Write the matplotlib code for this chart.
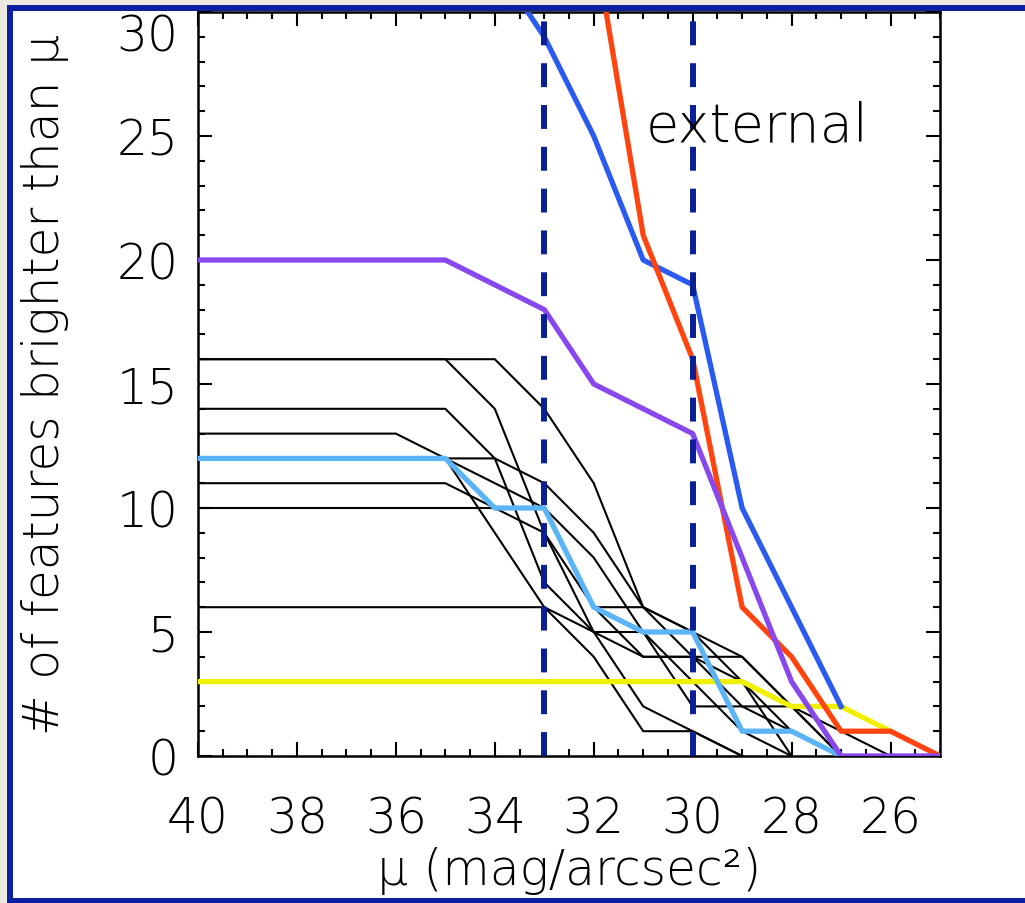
import numpy as np
import matplotlib
matplotlib.use("Agg")
from matplotlib import pyplot as plt
from matplotlib.patches import Rectangle
from matplotlib.ticker import MultipleLocator

#DATA------------------------------------------------------------------------------------------------------------------#
# Surface brightness grid (mag/arcsec^2), bright end on the right #
mu = [40, 39, 38, 37, 36, 35, 34, 33, 32, 31, 30, 29, 28, 27, 26, 25]

# Individual profiles (black), values from mu=40 down to where they hit zero #
black_1 = [16, 16, 16, 16, 16, 16, 14, 9, 6, 6, 4, 3, 1, 0]
black_2 = [16, 16, 16, 16, 16, 16, 16, 14, 11, 6, 5, 4, 2, 0]
black_3 = [14, 14, 14, 14, 14, 14, 12, 7, 5, 5, 2, 2, 2, 1, 0]
black_4 = [13, 13, 13, 13, 13, 12, 11, 10, 6, 4, 4, 4, 2, 0]
black_5 = [12, 12, 12, 12, 12, 12, 12, 11, 9, 6, 5, 3, 0]
black_6 = [11, 11, 11, 11, 11, 11, 10, 9, 5, 2, 1, 0]
black_7 = [10, 10, 10, 10, 10, 10, 10, 10, 8, 5, 3, 1, 0]
black_8 = [6, 6, 6, 6, 6, 6, 6, 6, 4, 1, 1, 0]
black_9 = [12, 12, 12, 12, 12, 12, 9, 6, 5, 4, 4, 2, 1, 0]
black_lines = [black_1, black_2, black_3, black_4, black_5, black_6, black_7, black_8, black_9]

# Highlighted profiles #
yellow_vals = [3, 3, 3, 3, 3, 3, 3, 3, 3, 3, 3, 3, 2, 2, 1]
ltblue_vals = [12, 12, 12, 12, 12, 12, 10, 10, 6, 5, 5, 1, 1, 0]
blue_vals = [40, 40, 40, 40, 38, 35, 32, 29, 25, 20, 19, 10, 6, 2]
red_vals = [40, 40, 40, 40, 40, 38, 36, 35, 33, 21, 16, 6, 4, 1, 1, 0]
purple_vals = [20, 20, 20, 20, 20, 20, 19, 18, 15, 14, 13, 8, 3, 0, 0, 0]

# Limits of the "external" band #
band_edges = [33, 30]

# Tick marks #
x_ticks = [40, 38, 36, 34, 32, 30, 28, 26]
y_ticks = [0, 5, 10, 15, 20, 25, 30]

#PLOTTING--------------------------------------------------------------------------------------------------------------#
fig = plt.figure(figsize=(10.25, 9.04), dpi=100, facecolor="#ece8e0")

# Framed slide panel #
fig.patches.append(Rectangle((10 / 1025, 2.5 / 904), 2.0, (904 - 11.5) / 904,
                             transform=fig.transFigure, facecolor="white",
                             edgecolor="#0b1fa0", linewidth=4.3, zorder=-1))

ax = fig.add_axes([198 / 1025, 147 / 904, 742 / 1025, 744 / 904])
ax.set_facecolor("white")

for vals in black_lines:
    ax.plot(mu[:len(vals)], vals, color="black", lw=1.5, zorder=2)

ax.plot(mu[:len(yellow_vals)], yellow_vals, color="#f0f000", lw=3.8, zorder=3)
ax.plot(mu[:len(ltblue_vals)], ltblue_vals, color="#5ab4f5", lw=3.8, zorder=4)
ax.plot(mu[:len(blue_vals)], blue_vals, color="#2a5af0", lw=3.8, zorder=5)
ax.plot(mu[:len(red_vals)], red_vals, color="#ff4410", lw=3.8, zorder=6)
ax.plot(mu[:len(purple_vals)], purple_vals, color="#8848ee", lw=3.8, zorder=7)

for m in band_edges:
    ax.axvline(m, color="#0a1e96", lw=4.3, dashes=(4, 3), zorder=8)

ax.text(30.95, 25.4, "external", fontsize=39, fontweight="light", color="black",
        ha="left", va="center", zorder=9)

# Axes #
ax.set_xlim(40, 25)
ax.set_ylim(0, 30)
ax.set_xticks(x_ticks)
ax.set_yticks(y_ticks)
ax.xaxis.set_minor_locator(MultipleLocator(0.5))
ax.yaxis.set_minor_locator(MultipleLocator(1))
ax.tick_params(which="both", direction="in", top=True, right=True, width=1.5, colors="black")
ax.tick_params(which="major", length=10)
ax.tick_params(which="minor", length=5)
ax.tick_params(axis="x", which="major", pad=28, labelsize=35)
ax.tick_params(axis="y", which="major", pad=14, labelsize=35)
for s in ax.spines.values():
    s.set_linewidth(1.8)

ax.set_xlabel("μ (mag/arcsec²)", fontsize=35, fontweight="light", labelpad=2)
ax.set_ylabel("# of features brighter than μ", fontsize=35, fontweight="light", labelpad=34)

# Thin tick labels; top label hangs below its tick so it stays inside the frame #
fig.canvas.draw()
for lab in ax.get_xticklabels() + ax.get_yticklabels():
    lab.set_fontweight("light")
ax.yaxis.get_major_ticks()[len(y_ticks) - 1].label1.set_verticalalignment("top")

fig.savefig("out.png", dpi=100, facecolor=fig.get_facecolor())
